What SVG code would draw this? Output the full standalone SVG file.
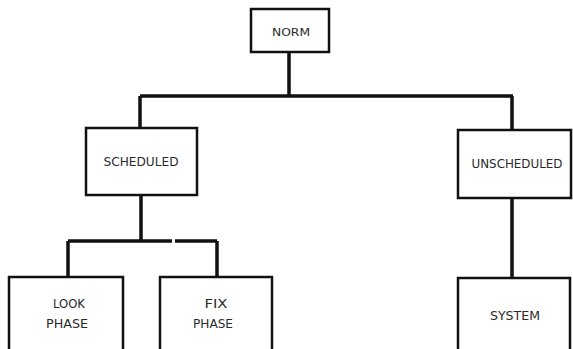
<svg xmlns="http://www.w3.org/2000/svg" width="573" height="349" viewBox="0 0 573 349">
<style>
.box{fill:#fff;stroke:#111;stroke-width:2.5}
.ln{fill:none;stroke:#111;stroke-width:3.5}
text{font-family:"DejaVu Sans Condensed","DejaVu Sans",sans-serif;font-size:13px;fill:#2a2a2a;text-anchor:middle}
</style>
<rect width="573" height="349" fill="#fff"/>
<g id="connectors">
<path class="ln" d="M289,52 V96 M140,96 H513 M140,96 V128 M512,96 V130"/>
<path class="ln" d="M141,195 V241 M68,241 H172 M175,241 H217 M68,241 V277 M217,241 V277 M512,198 V278"/>
</g>
<g id="norm"><rect class="box" x="251" y="9" width="78" height="43"/><text x="291" y="36" style="font-size:11px" textLength="38" lengthAdjust="spacingAndGlyphs">NORM</text></g>
<g id="scheduled"><rect class="box" x="86" y="128" width="111" height="67"/><text x="141" y="166" textLength="75" lengthAdjust="spacingAndGlyphs">SCHEDULED</text></g>
<g id="unscheduled"><rect class="box" x="458" y="130" width="113" height="68"/><text x="517" y="168" textLength="91" lengthAdjust="spacingAndGlyphs">UNSCHEDULED</text></g>
<g id="look"><rect class="box" x="9" y="277" width="114" height="80"/><text x="69" y="308" textLength="32" lengthAdjust="spacingAndGlyphs">LOOK</text><text x="67" y="328" textLength="42" lengthAdjust="spacingAndGlyphs">PHASE</text></g>
<g id="fix"><rect class="box" x="160" y="277" width="112" height="80"/><text x="216" y="308" textLength="23" lengthAdjust="spacingAndGlyphs">FIX</text><text x="213" y="328" textLength="40" lengthAdjust="spacingAndGlyphs">PHASE</text></g>
<g id="system"><rect class="box" x="458" y="278" width="112" height="80"/><text x="515" y="320" textLength="50" lengthAdjust="spacingAndGlyphs">SYSTEM</text></g>
</svg>
